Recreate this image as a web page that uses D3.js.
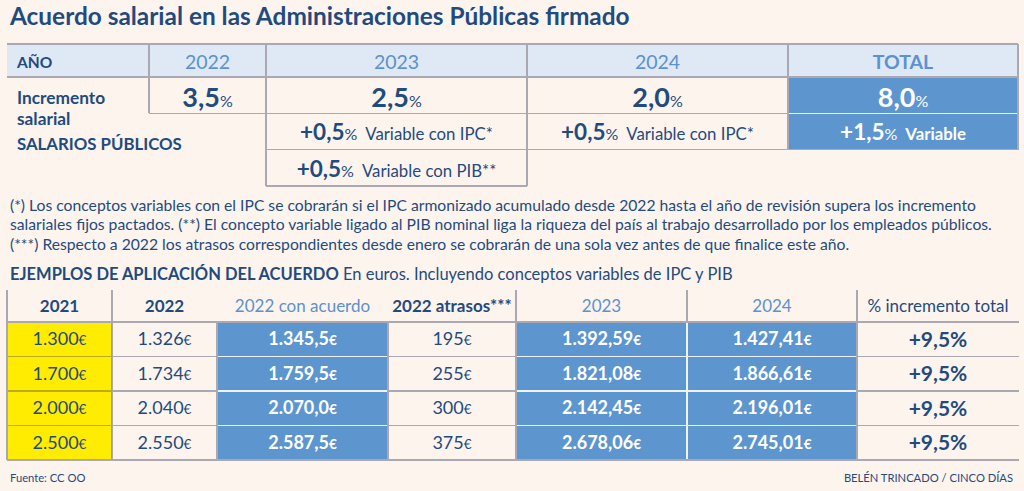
<!DOCTYPE html>
<html><head><meta charset="utf-8">
<script src="https://cdn.jsdelivr.net/npm/d3@7"></script>
<style>html,body{margin:0;padding:0;background:#fdf4ee;} svg{display:block;font-family:Lato,'Open Sans',sans-serif;}</style>
</head><body><svg id="c" width="1024" height="491"></svg>
<script>
// ---------- DATA ----------
const title = "Acuerdo salarial en las Administraciones Públicas firmado";
const topHeaders = ["AÑO", "2022", "2023", "2024", "TOTAL"];
const fixedIncrease = [3.5, 2.5, 2.0];
const totalFixed = 8.0;
const ipcVariable = [null, 0.5, 0.5];
const pibVariable = [null, 0.5, null];
const totalVariable = 1.5;
const rowLabels = ["Incremento", "salarial", "SALARIOS PÚBLICOS"];
const variableLabels = ["Variable con IPC*", "Variable con PIB**", "Variable"];
const notes = [
  "(*) Los conceptos variables con el IPC se cobrarán si el IPC armonizado acumulado desde 2022 hasta el año de revisión supera los incremento",
  "salariales fijos pactados. (**) El concepto variable ligado al PIB nominal liga la riqueza del país al trabajo desarrollado por los empleados públicos.",
  "(***) Respecto a 2022 los atrasos correspondientes desde enero se cobrarán de una sola vez antes de que finalice este año."
];
const examplesTitle = "EJEMPLOS DE APLICACIÓN DEL ACUERDO";
const examplesSub = " En euros. Incluyendo conceptos variables de IPC y PIB";
const exHeaders = ["2021", "2022", "2022 con acuerdo", "2022 atrasos***", "2023", "2024", "% incremento total"];
const sal2021 = [1300, 1700, 2000, 2500];
const sal2022 = [1326, 1734, 2040, 2550];
const sal2022acuerdo = [1345.5, 1759.5, 2070.0, 2587.5];
const atrasos2022 = [195, 255, 300, 375];
const sal2023 = [1392.59, 1821.08, 2142.45, 2678.06];
const sal2024 = [1427.41, 1866.61, 2196.01, 2745.01];
const incrementoTotal = [9.5, 9.5, 9.5, 9.5];
const source = "Fuente: CC OO";
const credit = "BELÉN TRINCADO / CINCO DÍAS";

// ---------- STYLE ----------
const C = {
  bg: "#fdf4ee", navy: "#1f4b7e", light: "#5b92cf", blue: "#5d95cf",
  head: "#dfe8f5", grid: "#a9a8b3", yellow: "#ffec00", yline: "#b9ab22", white: "#eef3fa"
};
const FONT = "Lato, 'Open Sans', sans-serif";
const loc = d3.formatLocale({decimal: ",", thousands: ".", grouping: [3], currency: ["", "€"]});
const f0 = loc.format(",d"), f1 = loc.format(",.1f"), f2 = loc.format(",.2f");

const svg = d3.select("#c");
svg.append("rect").attr("width", 1024).attr("height", 491).attr("fill", C.bg);

function rich(g, x, y, parts, anchor) {
  const t = g.append("text").attr("x", x).attr("y", y)
    .attr("text-anchor", anchor || "middle").attr("font-family", FONT);
  parts.forEach(p => {
    t.append("tspan").text(p.t).attr("font-size", p.s).attr("font-weight", p.w || 400)
      .attr("fill", p.f || C.navy).attr("dx", p.dx || 0);
  });
  return t;
}
function line(g, x1, y1, x2, y2, col, w) {
  g.append("line").attr("x1", x1).attr("y1", y1).attr("x2", x2).attr("y2", y2)
    .attr("stroke", col).attr("stroke-width", w || 1.2).attr("shape-rendering", "crispEdges");
}
const cum = arr => [0].concat(Array.from(d3.cumsum(arr)));

// ---------- TITLE ----------
svg.append("text").attr("x", 10).attr("y", 25).attr("font-family", FONT)
  .attr("font-size", 24.4).attr("font-weight", 700).attr("fill", C.navy).text(title);

// ---------- TOP TABLE ----------
const gT = svg.append("g");
const topW = [142, 117, 261, 261, 230];
const topCum = cum(topW);
const xT = d3.scaleLinear().domain([0, d3.sum(topW)]).range([7, 1018]);
const xe = i => xT(topCum[i]);
const xc = i => (xT(topCum[i]) + xT(topCum[i + 1])) / 2;
const headTop = 44, headBot = 77;
const yT = d3.scaleBand().domain([0, 1, 2]).range([77, 186]);

gT.append("rect").attr("x", xe(0)).attr("y", headTop).attr("width", xe(5) - xe(0))
  .attr("height", headBot - headTop).attr("fill", C.head);
gT.append("rect").attr("x", xe(4)).attr("y", yT(0)).attr("width", xe(5) - xe(4))
  .attr("height", yT(1) + yT.bandwidth() - yT(0)).attr("fill", C.blue);

line(gT, xe(0), headTop, xe(5), headTop, C.grid);
line(gT, xe(0), headBot, xe(5), headBot, C.grid);
line(gT, xe(1), yT(1), xe(4), yT(1), C.grid);
line(gT, xe(4), yT(1), xe(5), yT(1), C.white, 1.5);
line(gT, xe(2), yT(2), xe(5), yT(2), C.grid);
line(gT, xe(2), yT(2) + yT.bandwidth(), xe(3), yT(2) + yT.bandwidth(), C.grid);
line(gT, xe(1), headTop, xe(1), yT(1), C.grid);
line(gT, xe(2), headTop, xe(2), yT(2) + yT.bandwidth(), C.grid);
line(gT, xe(3), headTop, xe(3), yT(2) + yT.bandwidth(), C.grid);
line(gT, xe(4), headTop, xe(4), yT(2), C.grid);
line(gT, xe(5), headTop, xe(5), yT(2), C.grid);

rich(gT, 17, 68, [{t: topHeaders[0], s: 15.5, w: 700}], "start");
topHeaders.slice(1).forEach((h, i) => {
  rich(gT, xc(i + 1), 68.5, [{t: h, s: 19.5, w: h === "TOTAL" ? 700 : 400, f: C.light}]);
});
rich(gT, 17, 104, [{t: rowLabels[0], s: 17.3, w: 700}], "start");
rich(gT, 17, 125, [{t: rowLabels[1], s: 17.3, w: 700}], "start");
rich(gT, 17, 150, [{t: rowLabels[2], s: 16.8, w: 700}], "start");

const pct = v => loc.format(".1f")(v);
fixedIncrease.forEach((v, i) => {
  rich(gT, xc(i + 1), 107, [{t: pct(v), s: 27, w: 700}, {t: "%", s: 16}]);
});
rich(gT, xc(4), 107, [{t: pct(totalFixed), s: 27, w: 700, f: "#fff"}, {t: "%", s: 16, f: "#fff"}]);

function varCell(x, y, v, label, col, wLab) {
  rich(gT, x, y, [{t: "+" + pct(v), s: 22.5, w: 700, f: col}, {t: "%", s: 16, f: col},
    {t: label, s: 16.8, w: wLab || 400, f: col, dx: 8}]);
}
ipcVariable.forEach((v, i) => { if (v != null) varCell(xc(i + 1), 140, v, variableLabels[0], C.navy); });
pibVariable.forEach((v, i) => { if (v != null) varCell(xc(i + 1), 176.5, v, variableLabels[1], C.navy); });
varCell(xc(4), 140, totalVariable, variableLabels[2], "#fff", 700);

// ---------- NOTES ----------
notes.forEach((n, i) => {
  svg.append("text").attr("x", 10).attr("y", 211 + i * 19.3).attr("font-family", FONT)
    .attr("font-size", 15.7).attr("fill", C.navy).text(n);
});
rich(svg, 10, 280, [{t: examplesTitle, s: 16.5, w: 700}, {t: examplesSub, s: 16.5}], "start");

// ---------- EXAMPLES TABLE ----------
const gB = svg.append("g");
const bW = [105, 105, 171, 128, 171, 170, 162];
const bCum = cum(bW);
const xB = d3.scaleLinear().domain([0, d3.sum(bW)]).range([7, 1019]);
const be = i => xB(bCum[i]);
const bc = i => (xB(bCum[i]) + xB(bCum[i + 1])) / 2;
const bHeadTop = 290, bHeadBot = 322;
const yB = d3.scaleBand().domain(d3.range(sal2021.length)).range([322, 460]);
const types = ["yellow", "plain", "blue", "plain", "blue", "blue", "plain"];
const columns = [
  sal2021.map(f0), sal2022.map(f0), sal2022acuerdo.map(f1), atrasos2022.map(f0),
  sal2023.map(f2), sal2024.map(f2), incrementoTotal.map(v => "+" + pct(v) + "%")
];

types.forEach((t, ci) => {
  if (t === "plain") return;
  gB.selectAll(null).data(yB.domain()).enter().append("rect")
    .attr("x", be(ci)).attr("y", r => yB(r)).attr("width", be(ci + 1) - be(ci))
    .attr("height", yB.bandwidth()).attr("fill", t === "blue" ? C.blue : C.yellow);
});
const yEdges = yB.domain().map(r => yB(r)).concat([460]);
yEdges.forEach(y => line(gB, be(0), y, be(7), y, C.grid));
[0, 1, 4, 6].forEach(i => line(gB, be(i), bHeadTop, be(i), 460, C.grid));
[2, 3].forEach(i => line(gB, be(i), bHeadBot, be(i), 460, C.grid));
line(gB, be(5), bHeadTop, be(5), bHeadBot, C.grid);
yEdges.slice(1, -1).forEach(y => {
  line(gB, be(2) + 1, y, be(3) - 1, y, C.white, 1.5);
  line(gB, be(4) + 1, y, be(6) - 1, y, C.white, 1.5);
  line(gB, be(0) + 1, y, be(1) - 1, y, C.yline, 1.2);
});
line(gB, be(5), bHeadBot + 1, be(5), 459, C.white, 1.5);
line(gB, be(1) - 1, bHeadBot + 1, be(1) - 1, 459, C.yline, 1);

const hStyle = [
  {w: 700, f: C.navy}, {w: 700, f: C.navy}, {w: 400, f: C.light}, {w: 700, f: C.navy},
  {w: 400, f: C.light}, {w: 400, f: C.light}, {w: 400, f: C.navy}
];
exHeaders.forEach((h, i) => {
  rich(gB, bc(i), 312, [{t: h, s: 17, w: hStyle[i].w, f: hStyle[i].f}]);
});
columns.forEach((col, ci) => {
  col.forEach((v, r) => {
    const cy = yB(r) + yB.bandwidth() / 2;
    if (ci === 6) {
      rich(gB, bc(ci), cy + 7.5, [{t: v, s: 21, w: 700}]);
    } else if (types[ci] === "blue") {
      rich(gB, bc(ci), cy + 6, [{t: v, s: 18, w: 700, f: "#fff"}, {t: "€", s: 13.5, w: 700, f: "#fff"}]);
    } else {
      rich(gB, bc(ci), cy + 6, [{t: v, s: 18, w: 400}, {t: "€", s: 13.5}]);
    }
  });
});

// ---------- FOOTER ----------
svg.append("text").attr("x", 10).attr("y", 482).attr("font-family", FONT)
  .attr("font-size", 11.2).attr("fill", C.navy).text(source);
svg.append("text").attr("x", 1013).attr("y", 482).attr("text-anchor", "end").attr("font-family", FONT)
  .attr("font-size", 11.2).attr("fill", C.navy).text(credit);
</script></body></html>
